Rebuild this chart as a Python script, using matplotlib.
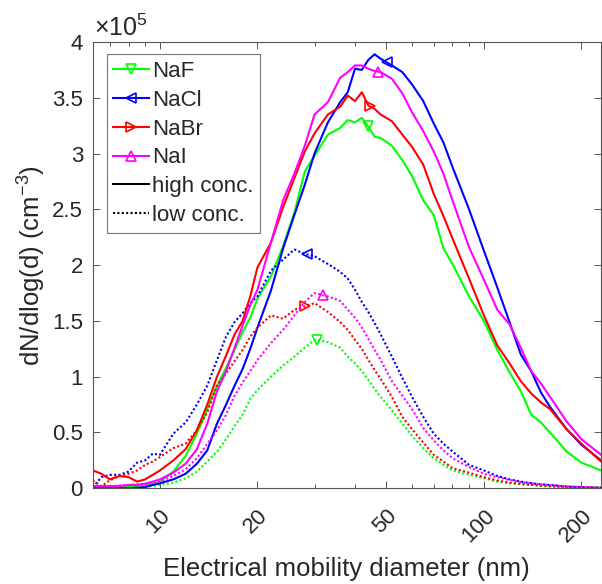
import numpy as np
import matplotlib.pyplot as plt
from matplotlib.lines import Line2D
from matplotlib.ticker import FixedLocator, NullFormatter

plt.rcParams['font.family'] = ['Liberation Sans', 'DejaVu Sans']
plt.rcParams['mathtext.fontset'] = 'custom'
plt.rcParams['mathtext.rm'] = 'Liberation Sans'
plt.rcParams['mathtext.it'] = 'Liberation Sans'

# diameter grid (nm)
d = [6.2, 6.6, 7, 7.5, 8, 8.5, 9, 9.5, 10, 11, 12, 13, 14, 15, 16, 17, 18, 19, 20,
     22, 24, 26, 28, 30, 33, 36, 38, 40, 42, 44, 46, 48, 52, 56, 60, 65, 70, 75, 80,
     90, 100, 110, 120, 130, 140, 150, 160, 180, 200, 230]

# dN/dlog(d), units of 1e5 cm^-3 -- high concentration
naf_high = [0.01, 0.01, 0.01, 0.01, 0.02, 0.02, 0.03, 0.04, 0.06, 0.15, 0.29, 0.49, 0.71, 0.92,
            1.08, 1.24, 1.40, 1.53, 1.70, 1.90, 2.17, 2.47, 2.84, 2.98, 3.17, 3.23, 3.30, 3.28,
            3.32, 3.24, 3.15, 3.14, 3.07, 2.94, 2.80, 2.58, 2.45, 2.15, 2.01, 1.72, 1.50, 1.24,
            1.04, 0.87, 0.66, 0.59, 0.50, 0.33, 0.23, 0.16]
nacl_high = [0.0, 0.0, 0.0, 0.0, 0.0, 0.005, 0.01, 0.03, 0.045, 0.08, 0.13, 0.22, 0.34, 0.58,
             0.75, 0.92, 1.07, 1.25, 1.44, 1.77, 2.15, 2.45, 2.72, 3.00, 3.28, 3.46, 3.55, 3.76,
             3.75, 3.84, 3.89, 3.85, 3.79, 3.73, 3.62, 3.47, 3.27, 3.10, 2.88, 2.50, 2.13, 1.80,
             1.49, 1.20, 1.05, 0.86, 0.73, 0.53, 0.39, 0.25]
nabr_high = [0.16, 0.13, 0.08, 0.11, 0.10, 0.06, 0.08, 0.12, 0.16, 0.25, 0.35, 0.52, 0.75, 1.00,
             1.19, 1.38, 1.50, 1.72, 1.98, 2.20, 2.52, 2.78, 3.02, 3.18, 3.35, 3.42, 3.52, 3.47,
             3.55, 3.43, 3.40, 3.35, 3.29, 3.17, 3.06, 2.90, 2.64, 2.44, 2.24, 1.88, 1.55, 1.28,
             1.12, 0.96, 0.85, 0.77, 0.71, 0.53, 0.40, 0.24]
nai_high = [0.02, 0.02, 0.02, 0.02, 0.03, 0.03, 0.04, 0.06, 0.08, 0.14, 0.22, 0.35, 0.58, 0.87,
            1.05, 1.26, 1.46, 1.64, 1.78, 2.20, 2.58, 2.82, 3.07, 3.35, 3.46, 3.68, 3.73, 3.79,
            3.79, 3.76, 3.74, 3.73, 3.67, 3.54, 3.37, 3.20, 3.02, 2.82, 2.58, 2.16, 1.87, 1.60,
            1.47, 1.26, 1.05, 0.94, 0.82, 0.60, 0.44, 0.30]

# low concentration
naf_low = [0.0, 0.0, 0.005, 0.005, 0.01, 0.01, 0.015, 0.02, 0.03, 0.05, 0.09, 0.15, 0.24, 0.33,
           0.44, 0.56, 0.66, 0.80, 0.88, 1.00, 1.10, 1.18, 1.26, 1.33, 1.31, 1.26, 1.18, 1.12,
           1.05, 0.97, 0.89, 0.82, 0.70, 0.58, 0.47, 0.36, 0.27, 0.21, 0.16, 0.12, 0.09, 0.06,
           0.045, 0.035, 0.03, 0.02, 0.015, 0.01, 0.005, 0.003]
nacl_low = [0.01, 0.10, 0.12, 0.12, 0.15, 0.23, 0.25, 0.31, 0.30, 0.49, 0.59, 0.75, 0.92, 1.15,
            1.36, 1.49, 1.57, 1.66, 1.72, 1.95, 2.05, 2.14, 2.10, 2.08, 2.01, 1.94, 1.88, 1.78,
            1.67, 1.58, 1.48, 1.38, 1.18, 0.99, 0.82, 0.64, 0.49, 0.40, 0.33, 0.21, 0.16, 0.11,
            0.08, 0.06, 0.045, 0.035, 0.03, 0.015, 0.01, 0.005]
nabr_low = [0.07, 0.02, 0.07, 0.11, 0.13, 0.16, 0.21, 0.24, 0.28, 0.36, 0.40, 0.52, 0.68, 0.92,
            1.03, 1.14, 1.24, 1.36, 1.44, 1.55, 1.52, 1.60, 1.63, 1.66, 1.58, 1.49, 1.42, 1.33,
            1.25, 1.15, 1.06, 0.98, 0.82, 0.64, 0.53, 0.41, 0.30, 0.24, 0.18, 0.14, 0.10, 0.07,
            0.05, 0.04, 0.03, 0.025, 0.02, 0.012, 0.008, 0.004]
nai_low = [0.02, 0.02, 0.02, 0.025, 0.03, 0.035, 0.04, 0.045, 0.06, 0.11, 0.17, 0.27, 0.40, 0.52,
           0.66, 0.83, 0.95, 1.05, 1.15, 1.30, 1.42, 1.55, 1.67, 1.75, 1.72, 1.68, 1.60, 1.53,
           1.44, 1.34, 1.24, 1.15, 0.96, 0.83, 0.71, 0.54, 0.43, 0.34, 0.27, 0.19, 0.13, 0.10,
           0.075, 0.055, 0.045, 0.035, 0.03, 0.018, 0.012, 0.006]

# diameters where the marker sits on each curve
mark_high = [43.8, 50.1, 44.5, 47.2]
mark_low = [30.5, 28.4, 28.0, 31.9]

salts = ['NaF', 'NaCl', 'NaBr', 'NaI']
colors = ['#00ff00', '#0000ff', '#ff0000', '#ff00ff']
markers = ['v', '<', '>', '^']
high = [naf_high, nacl_high, nabr_high, nai_high]
low = [naf_low, nacl_low, nabr_low, nai_low]

fig = plt.figure(figsize=(6.02, 5.84), dpi=100)
ax = fig.add_axes([0.154, 0.1639, 0.8444, 0.7642])

dotted = (0, (1, 1.1))
for i in range(4):
    ax.plot(d, high[i], color=colors[i], lw=1.5)
    ax.plot(d, low[i], color=colors[i], lw=1.5, linestyle=dotted)
    ld = np.log10(d)
    yh = np.interp(np.log10(mark_high[i]), ld, high[i])
    yl = np.interp(np.log10(mark_low[i]), ld, low[i])
    ax.plot([mark_high[i], mark_low[i]], [yh, yl], linestyle='none', marker=markers[i],
            ms=7, mfc='none', mec=colors[i], mew=1.2)

ax.set_xscale('log')
ax.set_xlim(6.2, 230)
ax.set_ylim(0, 4)

ax.xaxis.set_major_locator(FixedLocator([10, 20, 50, 100, 200]))
minors = [m * 10 ** e for e in (0, 1, 2) for m in range(2, 10)]
ax.xaxis.set_minor_locator(FixedLocator(minors))
ax.xaxis.set_minor_formatter(NullFormatter())
ax.set_xticklabels(['10', '20', '50', '100', '200'], rotation=45, ha='right',
                   rotation_mode='anchor', va='top')
yt = [0, 0.5, 1, 1.5, 2, 2.5, 3, 3.5, 4]
ax.set_yticks(yt)
ax.set_yticklabels(['0', '0.5', '1', '1.5', '2', '2.5', '3', '3.5', '4'])

ax.tick_params(which='both', direction='in', top=True, right=True, color='#555555',
               labelcolor='#262626', labelsize=16, width=0.7)
ax.tick_params(which='major', length=5)
ax.tick_params(which='minor', length=3)
ax.tick_params(axis='y', which='major', pad=7)
ax.tick_params(axis='x', which='major', pad=12)
for s in ax.spines.values():
    s.set_color('#555555')
    s.set_linewidth(0.8)

ax.set_xlabel('Electrical mobility diameter (nm)', fontsize=18.5, color='#262626', labelpad=8)
ax.set_ylabel('dN/dlog(d) (cm$^{-3}$)', fontsize=18.5, color='#262626', labelpad=3)
ax.text(0.003, 1.0135, r'$\times10^{5}$', transform=ax.transAxes, fontsize=18,
        color='#262626', ha='left', va='baseline')

handles = [Line2D([], [], color=c, lw=1.5, marker=m, ms=7, mfc='none', mew=1.2)
           for c, m in zip(colors, markers)]
handles.append(Line2D([], [], color='black', lw=1.5))
handles.append(Line2D([], [], color='black', lw=1.5, linestyle=dotted))
leg = ax.legend(handles, salts + ['high conc.', 'low conc.'], loc='upper left',
                bbox_to_anchor=(0.0275, 0.9724), borderaxespad=0, fontsize=16,
                frameon=True, fancybox=False, handlelength=1.6, handletextpad=0.15,
                labelspacing=0.35, borderpad=0.3, numpoints=1)
leg.get_frame().set_edgecolor('#555555')
leg.get_frame().set_linewidth(0.8)
for t in leg.get_texts():
    t.set_color('#262626')

fig.savefig('out.png', dpi=100)
